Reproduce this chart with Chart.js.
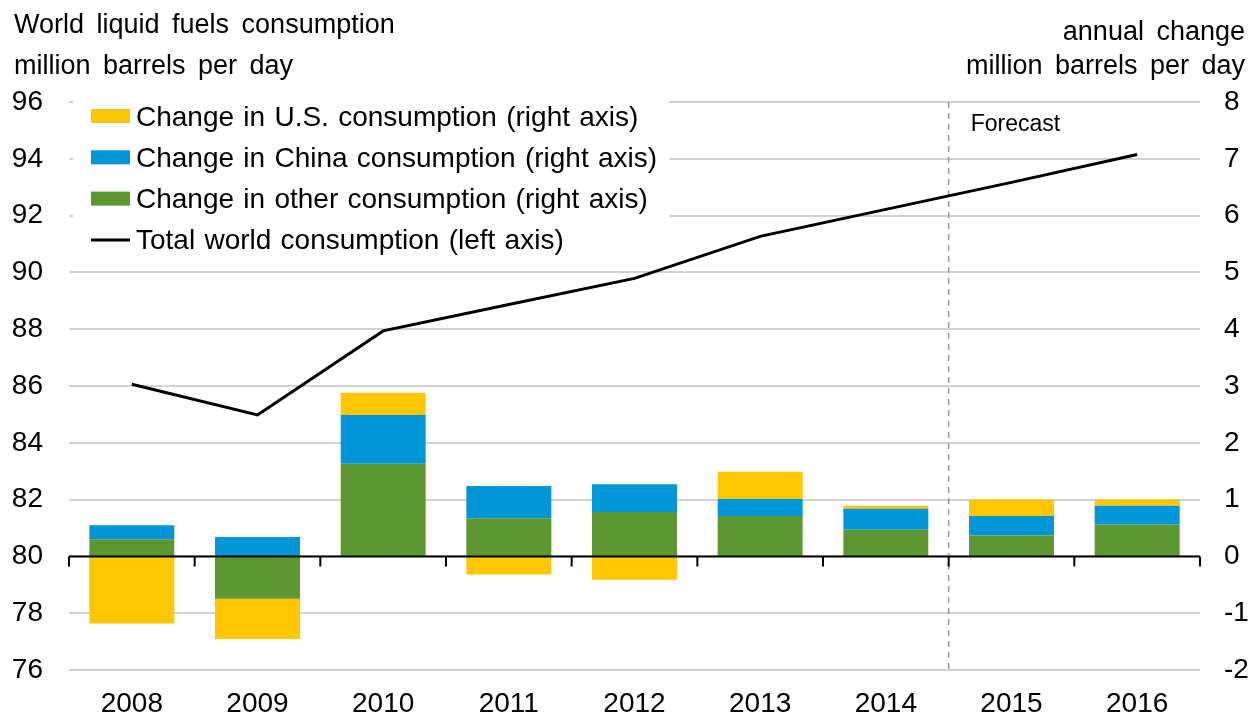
<!DOCTYPE html>
<html>
<head>
<meta charset="utf-8">
<script src="https://cdn.jsdelivr.net/npm/chart.js@4.4.1/dist/chart.umd.min.js"></script>
<style>
    html, body { margin: 0; padding: 0; background: #fff; }
    #wrap { width: 1260px; height: 719px; position: relative; }
</style>
</head>
<body>
<div id="wrap"><canvas id="chart"></canvas></div>
<script>
const years = ['2008', '2009', '2010', '2011', '2012', '2013', '2014', '2015', '2016'];

// annual change, million barrels per day (right axis)
const us_change = [-1.18, -0.71, 0.39, -0.32, -0.41, 0.48, 0.05, 0.29, 0.11];
const china_change = [0.25, 0.34, 0.86, 0.57, 0.49, 0.30, 0.37, 0.34, 0.33];
const other_change = [0.30, -0.745, 1.63, 0.67, 0.78, 0.71, 0.47, 0.37, 0.56];

// total world consumption, million barrels per day (left axis)
const world_total = [86.06, 84.98, 87.94, 88.87, 89.79, 91.27, 92.22, 93.17, 94.15];

const left_title = ['World liquid fuels consumption', 'million barrels per day'];
const right_title = ['annual change', 'million barrels per day'];
const forecast_label = 'Forecast';
const forecast_after = 6.5; // between 2014 and 2015

const FONT = "'Liberation Sans', Arial, sans-serif";

const overlay = {
    id: 'overlay',
    beforeDatasetsDraw(chart) {
        const ctx = chart.ctx;
        const area = chart.chartArea;
        const x = chart.scales.x;

        // legend background hides the grid lines behind it
        ctx.save();
        ctx.fillStyle = '#fff';
        ctx.fillRect(area.left + 4, area.top - 8, 596, 168);

        // forecast divider
        const fx = x.getPixelForValue(forecast_after);
        ctx.strokeStyle = '#9a9a9a';
        ctx.lineWidth = 1.5;
        ctx.setLineDash([6, 5]);
        ctx.beginPath();
        ctx.moveTo(fx, area.top);
        ctx.lineTo(fx, area.bottom);
        ctx.stroke();
        ctx.setLineDash([]);

        ctx.fillStyle = '#000';
        ctx.font = '23px ' + FONT;
        ctx.textAlign = 'left';
        ctx.textBaseline = 'alphabetic';
        ctx.fillText(forecast_label, fx + 22, 131);
        ctx.restore();
    },
    afterDatasetsDraw(chart) {
        const ctx = chart.ctx;
        const area = chart.chartArea;
        const x = chart.scales.x;
        const y0 = chart.scales.yR.getPixelForValue(0);

        ctx.save();
        ctx.strokeStyle = '#000';
        ctx.lineWidth = 2;
        ctx.beginPath();
        ctx.moveTo(area.left, y0);
        ctx.lineTo(area.right, y0);
        for (let i = 0; i <= years.length; i++) {
            const tx = x.getPixelForValue(i - 0.5);
            ctx.moveTo(tx, y0);
            ctx.lineTo(tx, y0 + 10);
        }
        ctx.stroke();

        // legend
        const order = [2, 1, 0, 3];
        ctx.font = '28px ' + FONT;
        ctx.wordSpacing = '1.5px';
        ctx.textAlign = 'left';
        ctx.textBaseline = 'alphabetic';
        order.forEach((di, row) => {
            const ds = chart.data.datasets[di];
            const cy = 116 + row * 41.3;
            if (ds.type === 'line') {
                ctx.strokeStyle = ds.borderColor;
                ctx.lineWidth = 3;
                ctx.beginPath();
                ctx.moveTo(91, cy);
                ctx.lineTo(130, cy);
                ctx.stroke();
            } else {
                ctx.fillStyle = ds.backgroundColor;
                ctx.fillRect(91, cy - 7, 39, 14);
            }
            ctx.fillStyle = '#000';
            ctx.fillText(ds.label, 136, cy + 9.5);
        });

        // axis titles
        ctx.font = '27px ' + FONT;
        ctx.wordSpacing = '5px';
        ctx.fillText(left_title[0], 14, 33);
        ctx.fillText(left_title[1], 14, 74);
        ctx.textAlign = 'right';
        ctx.fillText(right_title[0], 1245, 40);
        ctx.fillText(right_title[1], 1245, 74);
        ctx.restore();
    }
};

new Chart(document.getElementById('chart'), {
    data: {
        labels: years,
        datasets: [
            {
                type: 'bar',
                label: 'Change in other consumption (right axis)',
                data: other_change,
                backgroundColor: '#5D9732',
                yAxisID: 'yR',
                order: 1
            },
            {
                type: 'bar',
                label: 'Change in China consumption (right axis)',
                data: china_change,
                backgroundColor: '#0096D7',
                yAxisID: 'yR',
                order: 1
            },
            {
                type: 'bar',
                label: 'Change in U.S. consumption (right axis)',
                data: us_change,
                backgroundColor: '#FFC700',
                yAxisID: 'yR',
                order: 1
            },
            {
                type: 'line',
                label: 'Total world consumption (left axis)',
                data: world_total,
                borderColor: '#000',
                borderWidth: 3,
                pointRadius: 0,
                tension: 0,
                yAxisID: 'y',
                order: 0
            }
        ]
    },
    options: {
        responsive: true,
        maintainAspectRatio: false,
        devicePixelRatio: 1,
        animation: false,
        layout: { padding: { top: 102, left: 0, right: 0, bottom: 0 } },
        datasets: {
            bar: { barPercentage: 0.676, categoryPercentage: 1 }
        },
        scales: {
            x: {
                stacked: true,
                grid: { display: false },
                border: { display: false },
                ticks: { color: '#000', font: { family: FONT, size: 28 }, padding: 9 },
                afterFit(scale) { scale.height = 49; }
            },
            y: {
                position: 'left',
                min: 76,
                max: 96,
                stacked: false,
                grid: { color: '#d2d2d2', lineWidth: 2, drawTicks: false },
                border: { display: false },
                ticks: { stepSize: 2, color: '#000', font: { family: FONT, size: 28 }, padding: 26 },
                afterFit(scale) { scale.width = 69; }
            },
            yR: {
                position: 'right',
                min: -2,
                max: 8,
                stacked: true,
                grid: { display: false, drawTicks: false },
                border: { display: false },
                ticks: { stepSize: 1, color: '#000', font: { family: FONT, size: 28 }, padding: 24 },
                afterFit(scale) { scale.width = 60; }
            }
        },
        plugins: {
            legend: { display: false },
            tooltip: { enabled: false },
            title: { display: false }
        }
    },
    plugins: [overlay]
});
</script>
</body>
</html>
